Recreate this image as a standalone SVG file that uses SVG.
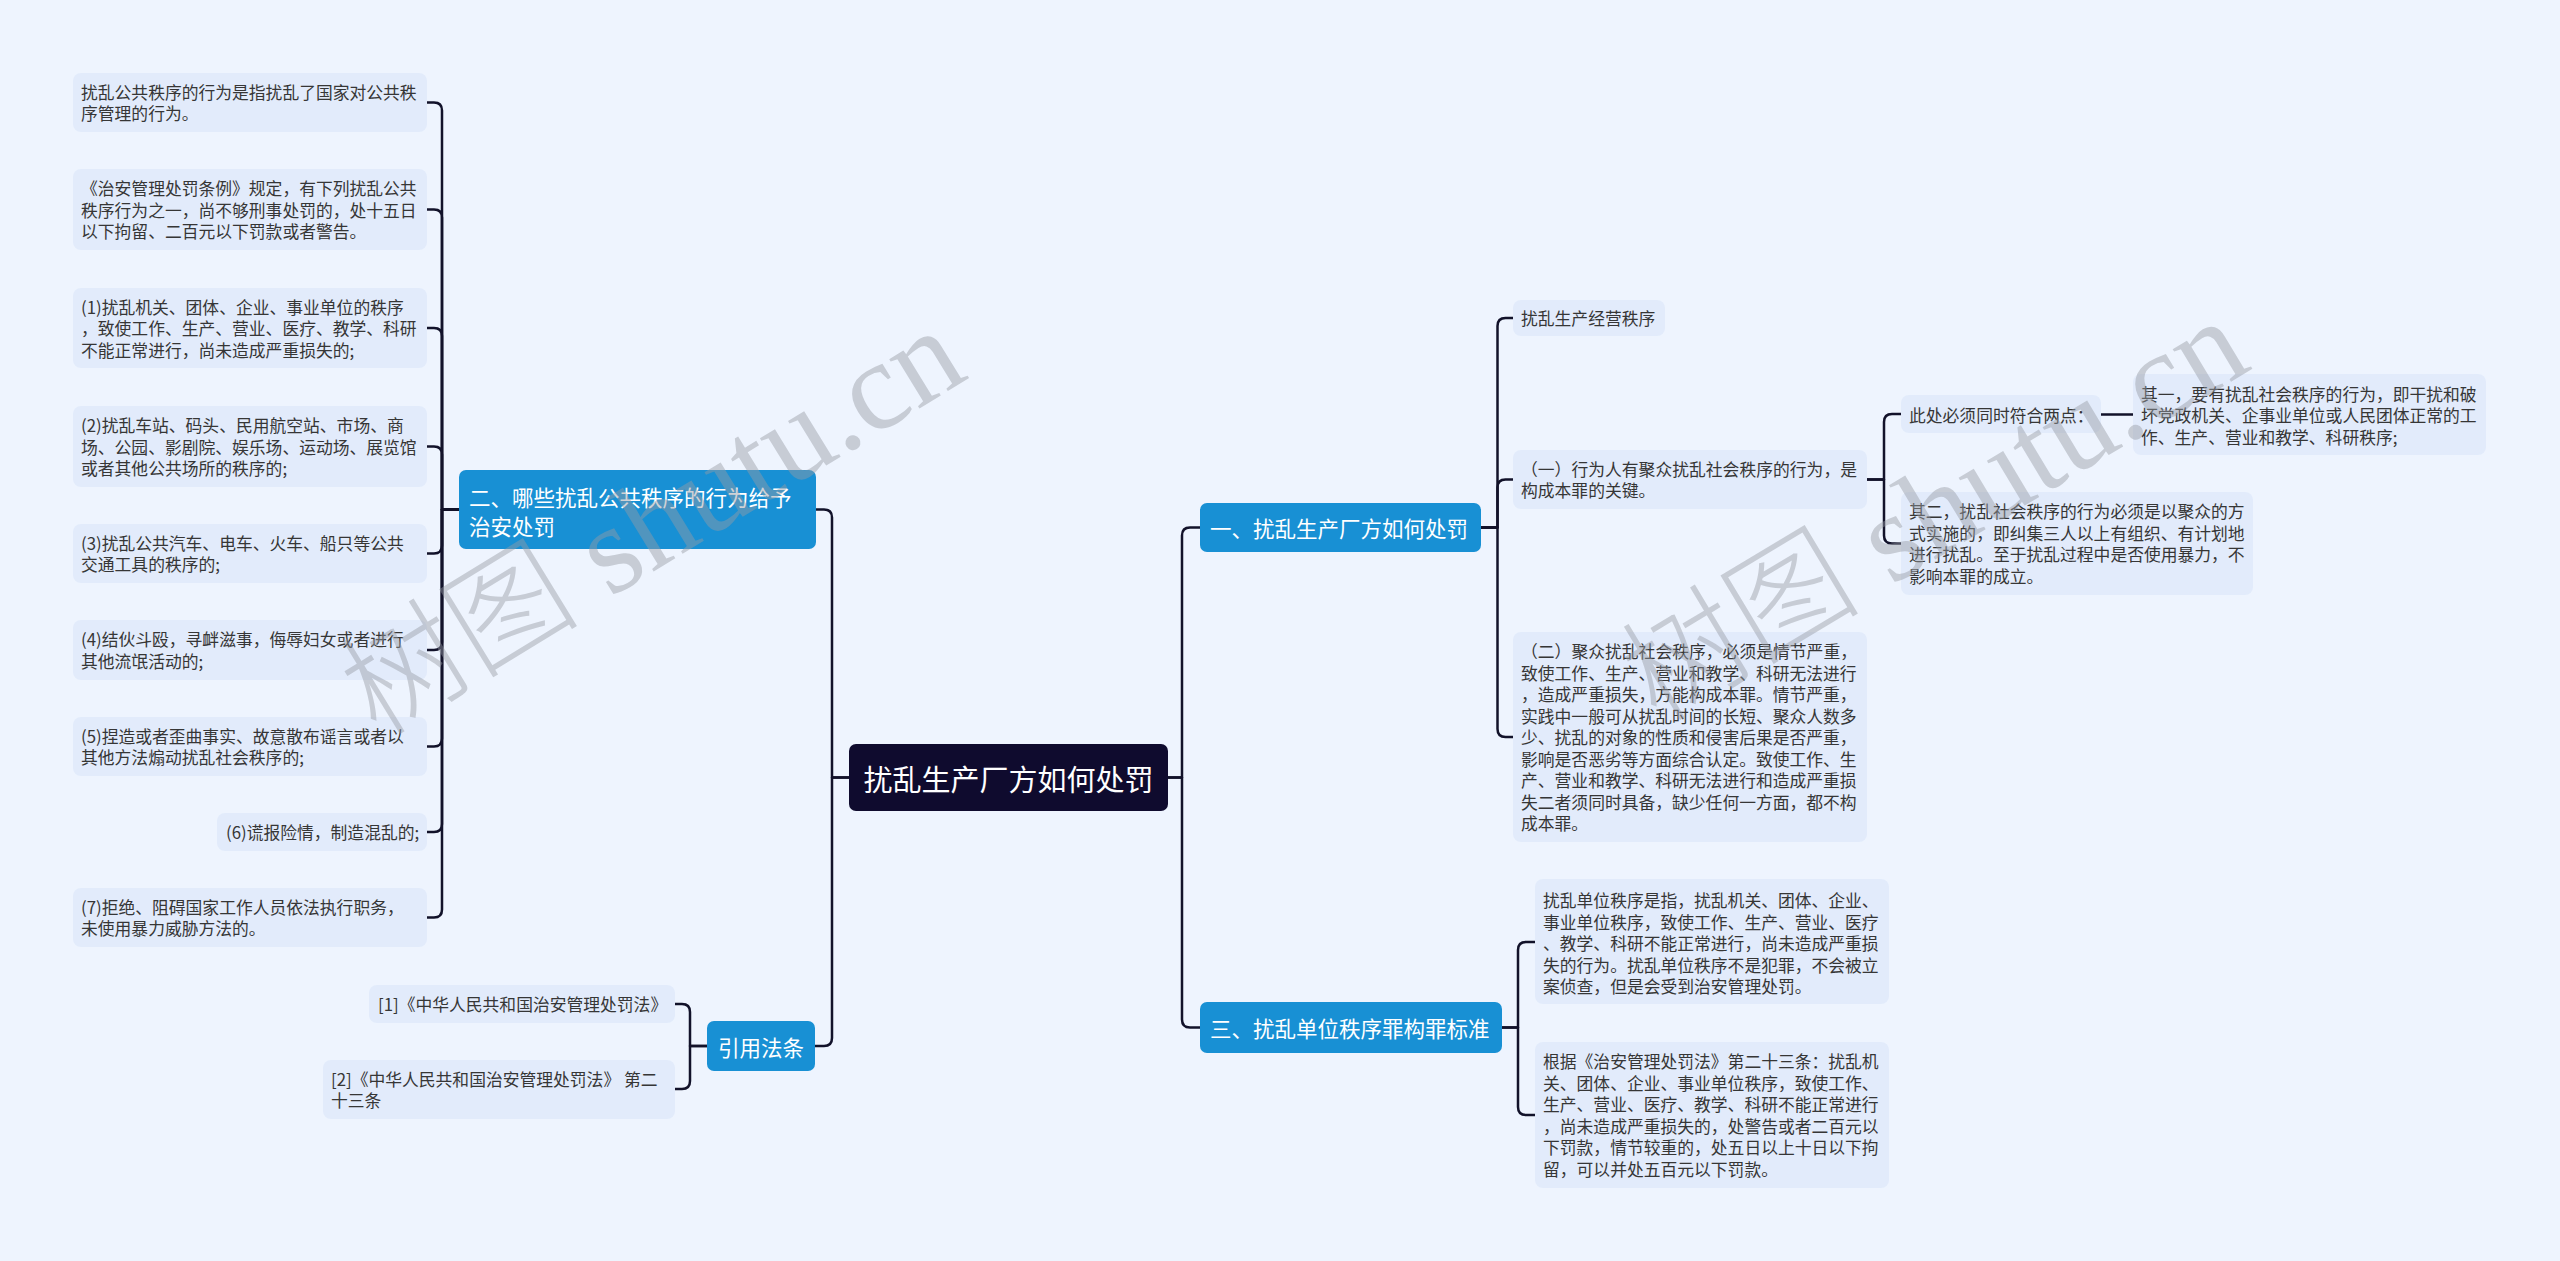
<svg xmlns="http://www.w3.org/2000/svg" width="2560" height="1261" viewBox="0 0 2560 1261">
<style>
.bg{fill:#eef4fe}
.leaf{fill:#e2ebfb}
.branch{fill:#1890d4}
.root{fill:#0f0b2e}
.lt{font-family:"Noto Sans CJK SC","Noto Sans",sans-serif;font-size:16.8px;fill:#363636;dominant-baseline:central}
.bt{font-family:"Noto Sans CJK SC","Noto Sans",sans-serif;font-size:21.5px;fill:#ffffff;dominant-baseline:central}
.rt{font-family:"Noto Sans CJK SC","Noto Sans",sans-serif;font-size:29px;fill:#ffffff;dominant-baseline:central;text-anchor:middle}
.wm{font-family:"Liberation Serif","Noto Sans CJK SC",serif;font-size:120px;font-weight:300;fill:#969ba5;fill-opacity:0.45;dominant-baseline:central;text-anchor:middle}
.wl{font-size:126px}
#connectors path{fill:none;stroke:#12122a;stroke-width:2.5;stroke-linecap:round;stroke-linejoin:round}
</style>
<rect class="bg" x="0" y="0" width="2560" height="1261"/>

<g id="connectors">
  <path d="M849 777.5 H832 V517.5 Q832 509.5 824 509.5 H816"/>
  <path d="M849 777.5 H832 V1038 Q832 1046 824 1046 H815"/>
  <path d="M1168 777.5 H1182 V535.5 Q1182 527.5 1190 527.5 H1200"/>
  <path d="M1168 777.5 H1182 V1019.5 Q1182 1027.5 1190 1027.5 H1200"/>
  <path d="M459 509.5 H442 V110.5 Q442 102.5 434 102.5 H427"/>
  <path d="M459 509.5 H442 V217.5 Q442 209.5 434 209.5 H427"/>
  <path d="M459 509.5 H442 V336 Q442 328 434 328 H427"/>
  <path d="M459 509.5 H442 V454.5 Q442 446.5 434 446.5 H427"/>
  <path d="M459 509.5 H442 V545.5 Q442 553.5 434 553.5 H427"/>
  <path d="M459 509.5 H442 V642 Q442 650 434 650 H427"/>
  <path d="M459 509.5 H442 V738.5 Q442 746.5 434 746.5 H427"/>
  <path d="M459 509.5 H442 V824 Q442 832 434 832 H427"/>
  <path d="M459 509.5 H442 V909.5 Q442 917.5 434 917.5 H427"/>
  <path d="M707 1046 H690 V1012 Q690 1004 682 1004 H675"/>
  <path d="M707 1046 H690 V1081 Q690 1089 682 1089 H675"/>
  <path d="M1481 527.5 H1497.5 V326 Q1497.5 318 1505.5 318 H1513"/>
  <path d="M1481 527.5 H1497.5 V487.5 Q1497.5 479.5 1505.5 479.5 H1513"/>
  <path d="M1481 527.5 H1497.5 V729 Q1497.5 737 1505.5 737 H1513"/>
  <path d="M1867 479.5 H1884 V422 Q1884 414 1892 414 H1901"/>
  <path d="M1867 479.5 H1884 V535.5 Q1884 543.5 1892 543.5 H1901"/>
  <path d="M2101 414.5 H2133"/>
  <path d="M1502 1027.5 H1518 V950 Q1518 942 1526 942 H1535"/>
  <path d="M1502 1027.5 H1518 V1107 Q1518 1115 1526 1115 H1535"/>
</g>

<g id="root">
  <rect class="root" x="849" y="744" width="319" height="67" rx="7"/>
  <text class="rt" x="1008.5" y="777.5">扰乱生产厂方如何处罚</text>
</g>

<g id="branch-2">
  <rect class="branch" x="459" y="470" width="357" height="79" rx="7"/>
  <text class="bt" x="469" y="496.5">二、哪些扰乱公共秩序的行为给予</text>
  <text class="bt" x="469" y="525.5">治安处罚</text>
</g>
<g id="branch-cite">
  <rect class="branch" x="707" y="1021" width="108" height="50" rx="7"/>
  <text class="bt" x="761" y="1046" text-anchor="middle">引用法条</text>
</g>
<g id="branch-1">
  <rect class="branch" x="1200" y="503" width="281" height="49" rx="7"/>
  <text class="bt" x="1210" y="527.5">一、扰乱生产厂方如何处罚</text>
</g>
<g id="branch-3">
  <rect class="branch" x="1200" y="1002" width="302" height="51" rx="7"/>
  <text class="bt" x="1210" y="1027.5">三、扰乱单位秩序罪构罪标准</text>
</g>

<g id="l1">
  <rect class="leaf" x="73" y="73" width="354" height="59" rx="8"/>
  <text class="lt" x="81" y="91.75">扰乱公共秩序的行为是指扰乱了国家对公共秩</text>
  <text class="lt" x="81" y="113.25">序管理的行为。</text>
</g>
<g id="l2">
  <rect class="leaf" x="73" y="169" width="354" height="81" rx="8"/>
  <text class="lt" x="81" y="188">《治安管理处罚条例》规定，有下列扰乱公共</text>
  <text class="lt" x="81" y="209.5">秩序行为之一，尚不够刑事处罚的，处十五日</text>
  <text class="lt" x="81" y="231">以下拘留、二百元以下罚款或者警告。</text>
</g>
<g id="l3">
  <rect class="leaf" x="73" y="288" width="354" height="80" rx="8"/>
  <text class="lt" x="81" y="306.5">(1)扰乱机关、团体、企业、事业单位的秩序</text>
  <text class="lt" x="81" y="328">，致使工作、生产、营业、医疗、教学、科研</text>
  <text class="lt" x="81" y="349.5">不能正常进行，尚未造成严重损失的;</text>
</g>
<g id="l4">
  <rect class="leaf" x="73" y="406" width="354" height="81" rx="8"/>
  <text class="lt" x="81" y="425">(2)扰乱车站、码头、民用航空站、市场、商</text>
  <text class="lt" x="81" y="446.5">场、公园、影剧院、娱乐场、运动场、展览馆</text>
  <text class="lt" x="81" y="468">或者其他公共场所的秩序的;</text>
</g>
<g id="l5">
  <rect class="leaf" x="73" y="524" width="354" height="59" rx="8"/>
  <text class="lt" x="81" y="542.75">(3)扰乱公共汽车、电车、火车、船只等公共</text>
  <text class="lt" x="81" y="564.25">交通工具的秩序的;</text>
</g>
<g id="l6">
  <rect class="leaf" x="73" y="620" width="354" height="60" rx="8"/>
  <text class="lt" x="81" y="639.25">(4)结伙斗殴，寻衅滋事，侮辱妇女或者进行</text>
  <text class="lt" x="81" y="660.75">其他流氓活动的;</text>
</g>
<g id="l7">
  <rect class="leaf" x="73" y="717" width="354" height="59" rx="8"/>
  <text class="lt" x="81" y="735.75">(5)捏造或者歪曲事实、故意散布谣言或者以</text>
  <text class="lt" x="81" y="757.25">其他方法煽动扰乱社会秩序的;</text>
</g>
<g id="l8">
  <rect class="leaf" x="217" y="813" width="210" height="38" rx="8"/>
  <text class="lt" x="226" y="832">(6)谎报险情，制造混乱的;</text>
</g>
<g id="l9">
  <rect class="leaf" x="73" y="888" width="354" height="59" rx="8"/>
  <text class="lt" x="81" y="906.75">(7)拒绝、阻碍国家工作人员依法执行职务，</text>
  <text class="lt" x="81" y="928.25">未使用暴力威胁方法的。</text>
</g>
<g id="c1">
  <rect class="leaf" x="369" y="985" width="306" height="38" rx="8"/>
  <text class="lt" x="378" y="1004">[1]《中华人民共和国治安管理处罚法》</text>
</g>
<g id="c2">
  <rect class="leaf" x="323" y="1060" width="352" height="59" rx="8"/>
  <text class="lt" x="331" y="1078.75">[2]《中华人民共和国治安管理处罚法》 第二</text>
  <text class="lt" x="331" y="1100.25">十三条</text>
</g>

<g id="r1">
  <rect class="leaf" x="1513" y="300" width="152" height="36" rx="8"/>
  <text class="lt" x="1521" y="318">扰乱生产经营秩序</text>
</g>
<g id="r2">
  <rect class="leaf" x="1513" y="450" width="354" height="59" rx="8"/>
  <text class="lt" x="1521" y="468.75" textLength="336" lengthAdjust="spacingAndGlyphs">（一）行为人有聚众扰乱社会秩序的行为，是</text>
  <text class="lt" x="1521" y="490.25">构成本罪的关键。</text>
</g>
<g id="r3">
  <rect class="leaf" x="1513" y="632" width="354" height="210" rx="8"/>
  <text class="lt" x="1521" y="651" textLength="336" lengthAdjust="spacingAndGlyphs">（二）聚众扰乱社会秩序，必须是情节严重，</text>
  <text class="lt" x="1521" y="672.5">致使工作、生产、营业和教学、科研无法进行</text>
  <text class="lt" x="1521" y="694">，造成严重损失，方能构成本罪。情节严重，</text>
  <text class="lt" x="1521" y="715.5">实践中一般可从扰乱时间的长短、聚众人数多</text>
  <text class="lt" x="1521" y="737">少、扰乱的对象的性质和侵害后果是否严重，</text>
  <text class="lt" x="1521" y="758.5">影响是否恶劣等方面综合认定。致使工作、生</text>
  <text class="lt" x="1521" y="780">产、营业和教学、科研无法进行和造成严重损</text>
  <text class="lt" x="1521" y="801.5">失二者须同时具备，缺少任何一方面，都不构</text>
  <text class="lt" x="1521" y="823">成本罪。</text>
</g>
<g id="r4">
  <rect class="leaf" x="1901" y="395" width="200" height="38" rx="8"/>
  <text class="lt" x="1909" y="414.5">此处必须同时符合两点：</text>
</g>
<g id="r5">
  <rect class="leaf" x="2133" y="374" width="353" height="81" rx="8"/>
  <text class="lt" x="2141" y="393.5">其一，要有扰乱社会秩序的行为，即干扰和破</text>
  <text class="lt" x="2141" y="415">坏党政机关、企事业单位或人民团体正常的工</text>
  <text class="lt" x="2141" y="436.5">作、生产、营业和教学、科研秩序;</text>
</g>
<g id="r6">
  <rect class="leaf" x="1901" y="492" width="352" height="103" rx="8"/>
  <text class="lt" x="1909" y="511.25">其二，扰乱社会秩序的行为必须是以聚众的方</text>
  <text class="lt" x="1909" y="532.75">式实施的，即纠集三人以上有组织、有计划地</text>
  <text class="lt" x="1909" y="554.25">进行扰乱。至于扰乱过程中是否使用暴力，不</text>
  <text class="lt" x="1909" y="575.75">影响本罪的成立。</text>
</g>
<g id="r7">
  <rect class="leaf" x="1535" y="879" width="354" height="125" rx="8"/>
  <text class="lt" x="1543" y="900">扰乱单位秩序是指，扰乱机关、团体、企业、</text>
  <text class="lt" x="1543" y="921.5">事业单位秩序，致使工作、生产、营业、医疗</text>
  <text class="lt" x="1543" y="943">、教学、科研不能正常进行，尚未造成严重损</text>
  <text class="lt" x="1543" y="964.5">失的行为。扰乱单位秩序不是犯罪，不会被立</text>
  <text class="lt" x="1543" y="986">案侦查，但是会受到治安管理处罚。</text>
</g>
<g id="r8">
  <rect class="leaf" x="1535" y="1042" width="354" height="146" rx="8"/>
  <text class="lt" x="1543" y="1061.25">根据《治安管理处罚法》第二十三条：扰乱机</text>
  <text class="lt" x="1543" y="1082.75">关、团体、企业、事业单位秩序，致使工作、</text>
  <text class="lt" x="1543" y="1104.25">生产、营业、医疗、教学、科研不能正常进行</text>
  <text class="lt" x="1543" y="1125.75">，尚未造成严重损失的，处警告或者二百元以</text>
  <text class="lt" x="1543" y="1147.25">下罚款，情节较重的，处五日以上十日以下拘</text>
  <text class="lt" x="1543" y="1168.75">留，可以并处五百元以下罚款。</text>
</g>

<g id="watermarks">
  <text class="wm" transform="translate(652 522) rotate(-31.5)">树图<tspan class="wl"> shutu.cn</tspan></text>
  <text class="wm" transform="translate(1934 510) rotate(-31)">树图<tspan class="wl"> shutu.cn</tspan></text>
</g>
</svg>
